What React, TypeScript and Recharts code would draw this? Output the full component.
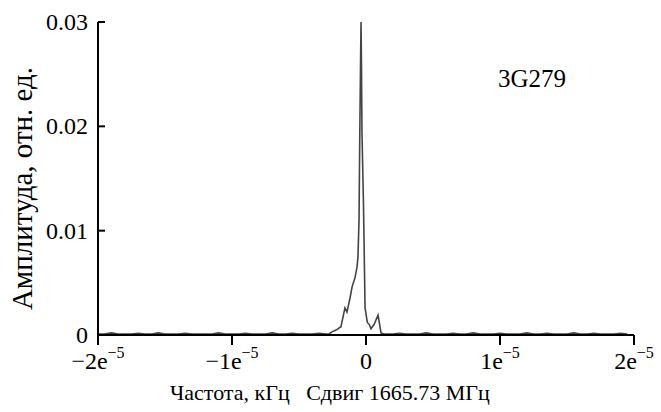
import React from 'react';
import { LineChart, Line, XAxis, YAxis } from 'recharts';

// frequency offset (kHz) and relative amplitude
const freqShift = [
  -2.0e-5, -1.95e-5, -1.9e-5, -1.85e-5, -1.8e-5, -1.75e-5, -1.7e-5, -1.65e-5, -1.6e-5, -1.55e-5,
  -1.5e-5, -1.45e-5, -1.4e-5, -1.35e-5, -1.3e-5, -1.25e-5, -1.2e-5, -1.15e-5, -1.1e-5, -1.05e-5,
  -1.0e-5, -0.95e-5, -0.9e-5, -0.85e-5, -0.8e-5, -0.75e-5, -0.7e-5, -0.65e-5, -0.6e-5, -0.55e-5,
  -0.5e-5, -0.45e-5, -0.4e-5, -0.35e-5, -0.3e-5,
  -0.276e-5, -0.254e-5, -0.22e-5, -0.187e-5, -0.157e-5, -0.142e-5, -0.12e-5, -0.104e-5, -0.082e-5,
  -0.067e-5, -0.06e-5, -0.052e-5, -0.047e-5, -0.041e-5, -0.037e-5, -0.034e-5, -0.03e-5, -0.019e-5,
  -0.007e-5, 0.01e-5, 0.025e-5, 0.037e-5, 0.06e-5, 0.09e-5, 0.112e-5, 0.134e-5,
  0.15e-5, 0.2e-5, 0.25e-5, 0.3e-5, 0.35e-5, 0.4e-5, 0.45e-5, 0.5e-5, 0.55e-5, 0.6e-5,
  0.65e-5, 0.7e-5, 0.75e-5, 0.8e-5, 0.85e-5, 0.9e-5, 0.95e-5, 1.0e-5, 1.05e-5, 1.1e-5,
  1.15e-5, 1.2e-5, 1.25e-5, 1.3e-5, 1.35e-5, 1.4e-5, 1.45e-5, 1.5e-5, 1.55e-5, 1.6e-5,
  1.65e-5, 1.7e-5, 1.75e-5, 1.8e-5, 1.85e-5, 1.9e-5, 1.95e-5,
];
const amplitude = [
  0.0001, 0.0001, 0.0002, 0.0001, 0.0001, 0.0001, 0.00017, 0.0001, 0.0001, 0.0002,
  0.0001, 0.0001, 0.0001, 0.00017, 0.0001, 0.0001, 0.0001, 0.0001, 0.0002, 0.0001,
  0.0001, 0.0001, 0.00017, 0.0001, 0.0001, 0.0001, 0.0002, 0.0001, 0.0001, 0.00017,
  0.0001, 0.0001, 0.0001, 0.00017, 0.0001,
  0.0001, 0.0003, 0.0005, 0.0008, 0.0026, 0.0022, 0.0035, 0.0046, 0.0055,
  0.0065, 0.0075, 0.011, 0.0184, 0.0257, 0.03, 0.0262, 0.0194, 0.0127,
  0.0026, 0.0012, 0.001, 0.0006, 0.001, 0.0019, 0.0002, 0.0001,
  0.0001, 0.0001, 0.00017, 0.0001, 0.0001, 0.0001, 0.0002, 0.0001, 0.0001, 0.0001,
  0.00017, 0.0001, 0.0001, 0.0002, 0.0001, 0.0001, 0.0001, 0.00017, 0.0001, 0.0001,
  0.0001, 0.0002, 0.0001, 0.0001, 0.00017, 0.0001, 0.0001, 0.0001, 0.0002, 0.0001,
  0.0001, 0.00017, 0.0001, 0.0001, 0.0001, 0.00017, 0.0001,
];

const xTicks = [-2e-5, -1e-5, 0, 1e-5, 2e-5];
const xTickBase = ['\u22122e', '\u22121e', '0', '1e', '2e'];
const xTickExp = ['\u22125', '\u22125', '', '\u22125', '\u22125'];
const yTicks = [0, 0.01, 0.02, 0.03];
const yTickLabels = ['0', '0.01', '0.02', '0.03'];
const sourceName = '3G279';
const xTitle = 'Частота, кГц   Сдвиг 1665.73 МГц';
const yTitle = 'Амплитуда, отн. ед.';

const FONT = '"Liberation Serif", Tinos, "Times New Roman", serif';

const data = freqShift.map((f, i) => ({ f, a: amplitude[i] }));

const XTick = (props: any) => {
  const { x, y, index } = props;
  return (
    <text x={x} y={y} dy={18} textAnchor="middle" fontFamily={FONT} fontSize={24} fill="#000">
      {xTickBase[index]}
      {xTickExp[index] ? (
        <tspan dy={-11} fontSize={16}>
          {xTickExp[index]}
        </tspan>
      ) : null}
    </text>
  );
};

const YTick = (props: any) => {
  const { x, y, index } = props;
  return (
    <g>
      <line x1={x + 10} y1={y} x2={x + 17} y2={y} stroke="#000" strokeWidth={2} />
      <text x={x} y={y} dy={8} textAnchor="end" fontFamily={FONT} fontSize={24} fill="#000">
        {yTickLabels[index]}
      </text>
    </g>
  );
};

const XLabel = (props: any) => {
  const vb = props.viewBox;
  return (
    <text
      x={vb.x + 72}
      y={vb.y + 65}
      fontFamily={FONT}
      fontSize={22}
      fill="#000"
      style={{ whiteSpace: 'pre' }}
    >
      {xTitle}
    </text>
  );
};

const YLabel = (props: any) => {
  const vb = props.viewBox;
  const cx = vb.x + 22;
  const cy = vb.y + vb.height / 2 + 10;
  return (
    <text
      x={cx}
      y={cy}
      transform={`rotate(-90, ${cx}, ${cy})`}
      textAnchor="middle"
      dominantBaseline="central"
      fontFamily={FONT}
      fontSize={29}
      fill="#000"
    >
      {yTitle}
    </text>
  );
};

export default function App() {
  return (
    <div style={{ position: 'absolute', left: 0, top: 0, width: 661, height: 412, background: '#fff', fontFamily: FONT }}>
      <LineChart width={661} height={412} data={data} margin={{ top: 22, right: 27, left: 0, bottom: 0 }}>
        <XAxis
          dataKey="f"
          type="number"
          domain={[-2e-5, 2e-5]}
          ticks={xTicks}
          interval={0}
          height={77}
          tickSize={10}
          tickMargin={6}
          axisLine={{ stroke: '#000', strokeWidth: 2 }}
          tickLine={{ stroke: '#000', strokeWidth: 2 }}
          tick={<XTick />}
          label={(p: any) => <XLabel {...p} />}
        />
        <YAxis
          type="number"
          domain={[0, 0.03]}
          ticks={yTicks}
          interval={0}
          width={98}
          tickSize={0}
          tickMargin={10}
          axisLine={{ stroke: '#000', strokeWidth: 2 }}
          tickLine={false}
          tick={<YTick />}
          label={(p: any) => <YLabel {...p} />}
        />
        <Line
          type="linear"
          dataKey="a"
          stroke="#444"
          strokeWidth={1.6}
          dot={false}
          isAnimationActive={false}
        />
      </LineChart>
      <div
        style={{
          position: 'absolute',
          left: 498,
          top: 64,
          fontFamily: FONT,
          fontSize: 25,
          lineHeight: '30px',
          color: '#000',
        }}
      >
        {sourceName}
      </div>
    </div>
  );
}
